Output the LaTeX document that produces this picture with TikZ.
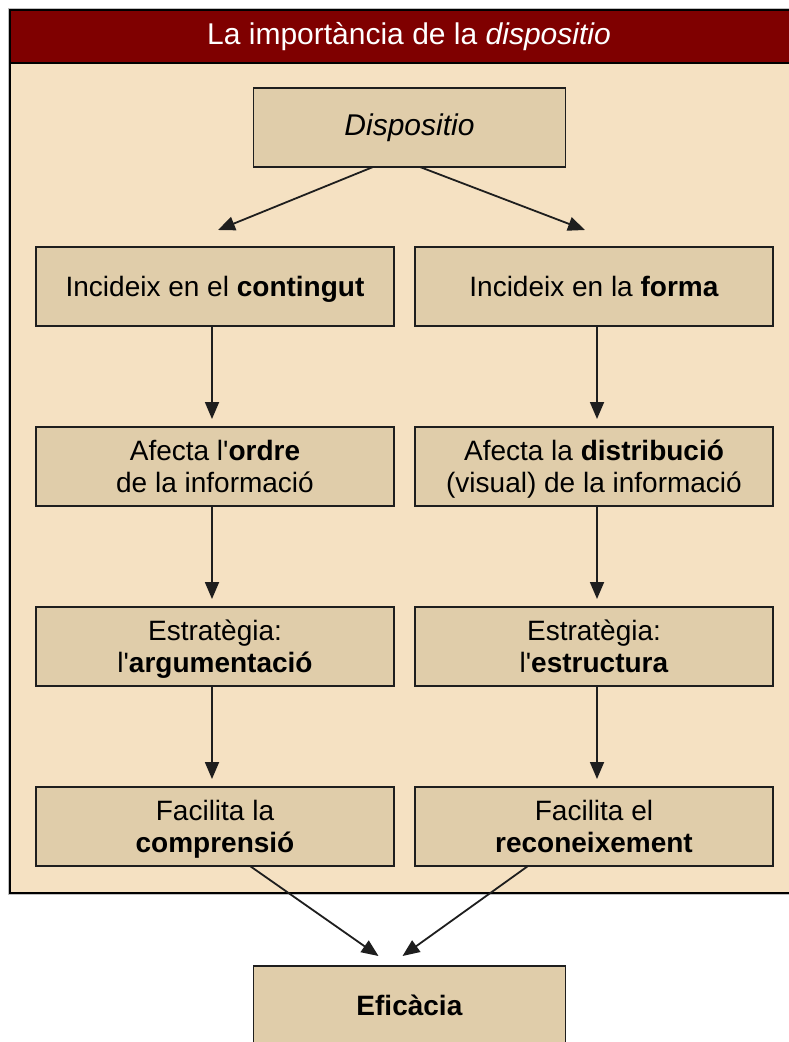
\documentclass[tikz,border=0pt]{standalone}
\usepackage{fontspec}
\setmainfont{Liberation Sans}[Ligatures=TeXOff]
\usetikzlibrary{arrows.meta,positioning}
\definecolor{headred}{HTML}{7F0000}
\definecolor{framefill}{HTML}{F5E1C2}
\definecolor{boxfill}{HTML}{E0CDAA}
\definecolor{boxline}{HTML}{1E1E1E}
\newcommand{\lnstrut}{\rule[-6pt]{0pt}{31pt}}

\begin{document}
\begin{tikzpicture}[
        x=1pt, y=-1pt,
        node distance=101pt and 21pt,
        box/.style={rectangle, draw=boxline, fill=boxfill, line width=1.8pt,
            minimum width=358pt, minimum height=79pt, inner sep=0pt, outer sep=0pt,
            align=center, font=\fontsize{28}{32}\selectfont},
        widebox/.style={box, minimum width=312pt},
        arr/.style={draw=boxline, line width=1.8pt, -{Triangle[length=17pt,width=14pt]}}
    ]
        \useasboundingbox (0,0) rectangle (789,1042);
        \fill[white] (0,0) rectangle (789,1042);
        \clip (0,0) rectangle (789,1042);
        
        % marc i capcalera
        \draw[black!25, line width=4pt] (10,10) rectangle (800,893);
        \draw[fill=framefill, line width=2.2pt] (10,10) rectangle (800,893);
        \draw[fill=headred, line width=2.2pt] (10,10) rectangle (800,63);
        \node (title) at (409,37) [text=white, font=\fontsize{30}{34}\selectfont] {La importància de la \textit{dispositio}};
        
        \node (disp) [widebox, font=\fontsize{30}{34}\selectfont\itshape] at (409.5,127.5) {Dispositio};
        \node (cont) [box] at (215,286.5) {\lnstrut Incideix en el \textbf{contingut}};
        \node (forma) [box, right=of cont] {\lnstrut Incideix en la \textbf{forma}};
        \node (ordre) [box, below=of cont] {\lnstrut Afecta l'\textbf{ordre}\\\lnstrut de la informació};
        \node (distr) [box, below=of forma] {\lnstrut Afecta la \textbf{distribució}\\\lnstrut (visual) de la informació};
        \node (argum) [box, below=of ordre] {\lnstrut Estratègia:\\\lnstrut l'\textbf{argumentació}};
        \node (estruc) [box, below=of distr] {\lnstrut Estratègia:\\\lnstrut l'\textbf{estructura}};
        \node (compr) [box, below=of argum] {\lnstrut Facilita la\\\lnstrut\textbf{comprensió}};
        \node (recon) [box, below=of estruc] {\lnstrut Facilita el\\\lnstrut\textbf{reconeixement}};
        \node (efic) [widebox] at (409.5,1005.5) {\textbf{Eficàcia}};
        
        \path[every edge/.style={arr}]
            ([xshift=-36.5pt]disp.south) edge ([xshift=3pt,yshift=17pt]cont.north)
            ([xshift=10.5pt]disp.south) edge ([xshift=-9pt,yshift=17pt]forma.north)
            ([xshift=-3pt]cont.south) edge[shorten >=8pt] ([xshift=-3pt]ordre.north)
            ([xshift=-3pt]ordre.south) edge[shorten >=8pt] ([xshift=-3pt]argum.north)
            ([xshift=-3pt]argum.south) edge[shorten >=8pt] ([xshift=-3pt]compr.north)
            ([xshift=3pt]forma.south) edge[shorten >=8pt] ([xshift=3pt]distr.north)
            ([xshift=3pt]distr.south) edge[shorten >=8pt] ([xshift=3pt]estruc.north)
            ([xshift=3pt]estruc.south) edge[shorten >=8pt] ([xshift=3pt]recon.north)
            ([xshift=35pt]compr.south) edge ([xshift=-31pt,yshift=10pt]efic.north)
            ([xshift=-66pt]recon.south) edge ([xshift=-7pt,yshift=10pt]efic.north);
    \end{tikzpicture}
\end{document}
